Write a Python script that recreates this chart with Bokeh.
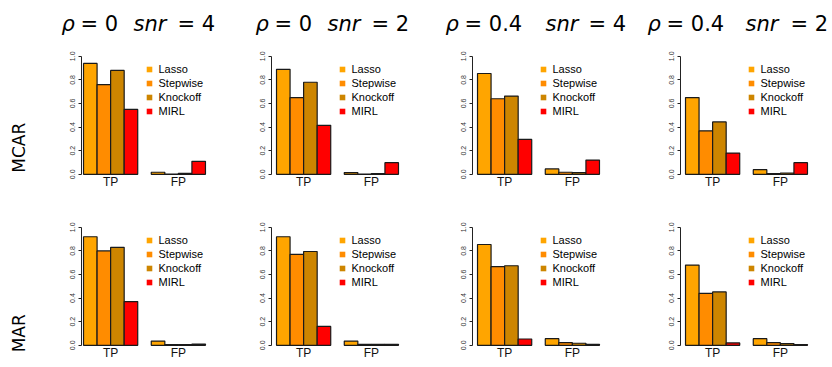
import math

from bokeh.core.properties import value
from bokeh.embed import file_html
from bokeh.layouts import column, row
from bokeh.models import (ColumnDataSource, FactorRange, FixedTicker, Legend,
                          LegendItem, PrintfTickFormatter, Range1d)
from bokeh.plotting import figure
from bokeh.resources import INLINE

# ---- data -------------------------------------------------------------
methods = ["Lasso", "Stepwise", "Knockoff", "MIRL"]
measures = ["TP", "FP"]
method_colors = ["#FFA500", "#FF8C00", "#CD8500", "#FF0000"]
rho_labels = ["0", "0", "0.4", "0.4"]
snr_labels = ["4", "2", "4", "2"]
missing_types = ["MCAR", "MAR"]

# one list per setting (columns: rho=0/snr=4, rho=0/snr=2, rho=0.4/snr=4, rho=0.4/snr=2)
mcar_tp = [
    [0.94, 0.76, 0.88, 0.55],
    [0.89, 0.65, 0.78, 0.415],
    [0.854, 0.64, 0.663, 0.295],
    [0.65, 0.368, 0.444, 0.18],
]
mcar_fp = [
    [0.017, 0.002, 0.008, 0.11],
    [0.014, 0.002, 0.006, 0.098],
    [0.045, 0.017, 0.014, 0.12],
    [0.039, 0.005, 0.011, 0.098],
]
mar_tp = [
    [0.92, 0.80, 0.83, 0.37],
    [0.92, 0.77, 0.795, 0.16],
    [0.854, 0.666, 0.674, 0.053],
    [0.68, 0.44, 0.452, 0.02],
]
mar_fp = [
    [0.036, 0.005, 0.005, 0.01],
    [0.036, 0.007, 0.007, 0.008],
    [0.056, 0.022, 0.017, 0.008],
    [0.056, 0.022, 0.014, 0.006],
]

# ---- layout settings --------------------------------------------------
TOTAL_W = 832
HEADER_H = 40
LABEL_W = 40
AXIS_BORDER = 41
col_widths = [190, 201, 208, 193]
frame_widths = [126, 132, 132, 132]
col_pads = [0.15, 0.37, 0.37, 0.37]
legend_x = [60.5, 63.5, 63.5, 63.5]
row_heights = [151, 176]
row_borders = [(4, 0), (24, 5)]          # (top, bottom)
# x of: rho symbol, "= value", "snr", "= value"
title_x = [[61, 80, 133, 177], [255, 274, 327, 371],
           [445, 464, 545, 588], [647, 666, 745, 790]]
row_label_y = [45, 35]

SANS = "Liberation Sans"
MATH = "DejaVu Sans"


def bare_figure(w, h, xr, yr):
    p = figure(width=w, height=h, x_range=xr, y_range=yr, title=None,
               x_axis_type=None, y_axis_type=None, toolbar_location=None,
               output_backend="svg", min_border=0)
    p.outline_line_color = None
    p.grid.visible = False
    return p


# header with the column titles
header = bare_figure(TOTAL_W, HEADER_H, Range1d(0, TOTAL_W), Range1d(0, HEADER_H))
reg_x, reg_t, ita_x, ita_t = [], [], [], []
for i in range(4):
    xr_, xa, xb, xc = title_x[i]
    ita_x += [xr_, xb]
    ita_t += ["ρ", "snr"]
    reg_x += [xa, xc]
    reg_t += ["= " + rho_labels[i], "= " + snr_labels[i]]
TITLE_Y = 16.5
header.text(x=reg_x, y=[TITLE_Y] * len(reg_x), text=reg_t, text_font=value(MATH),
            text_font_size="21px", text_align="left", text_baseline="middle",
            text_color="black")
header.text(x=ita_x, y=[TITLE_Y] * len(ita_x), text=ita_t, text_font=value(MATH),
            text_font_size="21px", text_font_style="italic", text_align="left",
            text_baseline="middle", text_color="black")


def row_label(name, h, y):
    p = bare_figure(LABEL_W, h, Range1d(0, LABEL_W), Range1d(0, h))
    p.text(x=[18], y=[y], text=[name], angle=math.pi / 2, text_font=value(MATH),
           text_font_size="17px", text_align="center", text_baseline="middle",
           text_color="black")
    return p


def panel(tp, fp, c, r):
    factors = [(g, m) for g in measures for m in methods]
    xr = FactorRange(*factors, group_padding=1.0, factor_padding=0.0,
                     range_padding=col_pads[c], range_padding_units="absolute")
    top_b, bot_b = row_borders[r]
    p = figure(width=col_widths[c], height=row_heights[r], x_range=xr,
               y_range=Range1d(-0.146, 1.1), title=None, x_axis_location=None,
               toolbar_location=None, output_backend="svg",
               min_border_left=AXIS_BORDER,
               min_border_right=col_widths[c] - AXIS_BORDER - frame_widths[c],
               min_border_top=top_b, min_border_bottom=bot_b)
    p.outline_line_color = None
    p.grid.visible = False

    src = ColumnDataSource(dict(x=factors, top=list(tp) + list(fp),
                                color=method_colors * 2))
    p.vbar(x="x", top="top", bottom=0, width=1.0, source=src,
           fill_color="color", line_color="#1a1a1a", line_width=1.2)

    p.text(x=measures, y=[0, 0], text=measures, y_offset=1, text_align="center",
           text_baseline="top", text_font=value(SANS), text_font_size="12px",
           text_color="#111111")

    ax = p.yaxis[0]
    ax.ticker = FixedTicker(ticks=[0, 0.2, 0.4, 0.6, 0.8, 1.0])
    ax.formatter = PrintfTickFormatter(format="%.1f")
    ax.bounds = (0, 1)
    ax.axis_line_color = "#222222"
    ax.major_tick_line_color = "#222222"
    ax.major_tick_out = 3
    ax.major_tick_in = 0
    ax.minor_tick_line_color = None
    ax.major_label_orientation = "vertical"
    ax.major_label_standoff = 3
    ax.major_label_text_font = SANS
    ax.major_label_text_font_size = "7px"
    ax.major_label_text_color = "#333333"

    items = []
    for m, col in zip(methods, method_colors):
        rr = p.scatter(x=[("TP", m)], y=[float("nan")], marker="square",
                       fill_color=col, line_color=None)
        items.append(LegendItem(label=m, renderers=[rr]))
    leg = Legend(items=items, location=(legend_x[c], 73), padding=0, margin=0,
                 spacing=0, glyph_width=14, glyph_height=14, label_height=14,
                 label_standoff=3, label_text_font=SANS,
                 label_text_font_size="11px", label_text_color="black",
                 border_line_color=None, background_fill_alpha=0)
    p.add_layout(leg)
    return p


tp_rows = [mcar_tp, mar_tp]
fp_rows = [mcar_fp, mar_fp]
rows = []
for r, name in enumerate(missing_types):
    figs = [row_label(name, row_heights[r], row_label_y[r])]
    for c in range(4):
        figs.append(panel(tp_rows[r][c], fp_rows[r][c], c, r))
    rows.append(row(*figs))

layout = column(header, *rows)

open("out.html", "w").write(file_html(layout, INLINE))
